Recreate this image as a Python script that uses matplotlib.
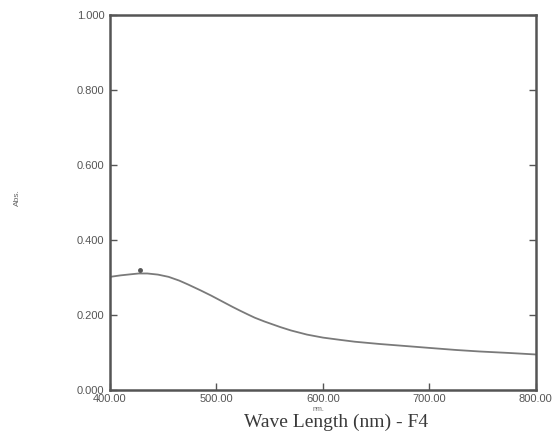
import matplotlib
matplotlib.use("Agg")
import matplotlib.pyplot as plt

# Absorbance spectrum, sample F4
wavelength = [400, 410, 420, 427, 435, 445, 455, 465, 473, 485, 495, 505, 515, 522,
              530, 536, 545, 553, 560, 570, 585, 600, 616, 630, 653, 680, 700, 725,
              747, 775, 800]
absorbance = [0.302, 0.306, 0.309, 0.311, 0.311, 0.308, 0.302, 0.292, 0.282, 0.266,
              0.252, 0.237, 0.222, 0.212, 0.201, 0.193, 0.183, 0.175, 0.168, 0.159,
              0.148, 0.140, 0.134, 0.129, 0.123, 0.117, 0.1125, 0.107, 0.103, 0.099,
              0.095]
peak_wl = [428]
peak_abs = [0.320]

x_ticks = [400, 500, 600, 700, 800]
y_ticks = [0.0, 0.2, 0.4, 0.6, 0.8, 1.0]

fig = plt.figure(figsize=(5.53, 4.32), dpi=100)
ax = fig.add_axes([0.199, 0.097, 0.770, 0.868])

ax.plot(wavelength, absorbance, color="#7a7a7a", lw=1.3, solid_joinstyle="round")
ax.plot(peak_wl, peak_abs, marker="o", ms=2.5, color="#555555", ls="none")

ax.set_xlim(400, 800)
ax.set_ylim(0, 1.0)
ax.set_xticks(x_ticks)
ax.set_yticks(y_ticks)
ax.set_xticklabels([f"{v:.2f}" for v in x_ticks])
ax.set_yticklabels([f"{v:.3f}" for v in y_ticks])

for s in ax.spines.values():
    s.set_color("#555555")
    s.set_linewidth(1.8)

ax.tick_params(direction="in", length=5, width=1.0, color="#555555",
               labelsize=8, labelcolor="#555555", top=False, right=True)
ax.tick_params(axis="x", pad=3)
ax.tick_params(axis="y", pad=4)
for lab in ax.get_xticklabels() + ax.get_yticklabels():
    lab.set_fontfamily("Liberation Sans")

fig.text(0.031, 0.542, "Abs.", rotation=90, ha="center", va="center",
         fontsize=6, color="#666666", family="Liberation Sans")
fig.text(0.575, 0.0532, "nm.", ha="center", va="center", fontsize=5,
         color="#666666", family="Liberation Sans")
fig.text(0.608, 0.0116, "Wave Length (nm) - F4", ha="center", va="baseline",
         fontsize=14, color="#3a3a3a", family="Liberation Serif")

fig.savefig("out.png", dpi=100, facecolor="white")
